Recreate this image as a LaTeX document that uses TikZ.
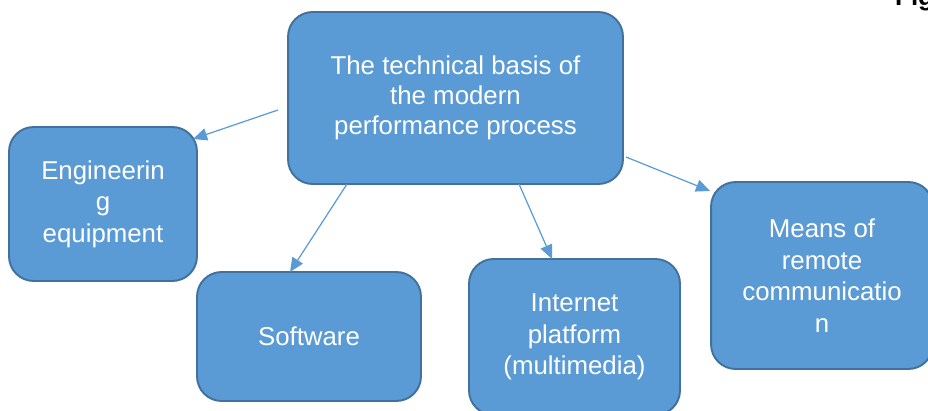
\documentclass[tikz,border=0pt]{standalone}
\usepackage{fontspec}
\setmainfont{Liberation Sans}
\usetikzlibrary{arrows.meta}
\definecolor{boxfill}{HTML}{5B9BD5}
\definecolor{boxline}{HTML}{41719C}
\tikzset{
	blockstyle/.style={rectangle,rounded corners=14pt,draw=boxline,line width=1.1pt,fill=boxfill,text=white,align=center,font=\fontsize{14.7}{18}\selectfont},
	linkstyle/.style={draw=boxfill,line width=0.7pt,-{Triangle[length=8pt,width=7pt]}}
}
\begin{document}
\begin{tikzpicture}[x=0.02cm,y=-0.02cm]
	\useasboundingbox (0,0) rectangle (928,411);
	\node[blockstyle,minimum width=6.70cm,minimum height=3.44cm,font=\fontsize{14.7}{17}\selectfont] (basis) at (455.5,98) {The technical basis of\\the modern\\performance process};
	\node[blockstyle,minimum width=3.76cm,minimum height=3.08cm] (eng) at (103,204) {Engineerin\\g\\equipment};
	\node[blockstyle,minimum width=4.48cm,minimum height=2.58cm] (soft) at (309,336.5) {Software};
	\node[blockstyle,minimum width=4.22cm,minimum height=3.12cm] (web) at (574.5,337) {Internet\\platform\\(multimedia)};
	\node[blockstyle,minimum width=4.44cm,minimum height=3.74cm] (remote) at (822,275.5) {Means of\\remote\\communicatio\\n};
	\node[anchor=base west,font=\fontsize{14.7}{17}\selectfont\bfseries] (fig) at (889,6) {Fig};
	\coordinate (s1) at (278,110);
	\coordinate (e1) at (193,139);
	\coordinate (s2) at (347,184);
	\coordinate (e2) at (290,272);
	\coordinate (s3) at (519,184);
	\coordinate (e3) at (552,259);
	\coordinate (s4) at (626,157);
	\coordinate (e4) at (710,191);
	\draw[linkstyle] (s1)--(e1);
	\draw[linkstyle] (s2)--(e2);
	\draw[linkstyle] (s3)--(e3);
	\draw[linkstyle] (s4)--(e4);
\end{tikzpicture}
\end{document}
